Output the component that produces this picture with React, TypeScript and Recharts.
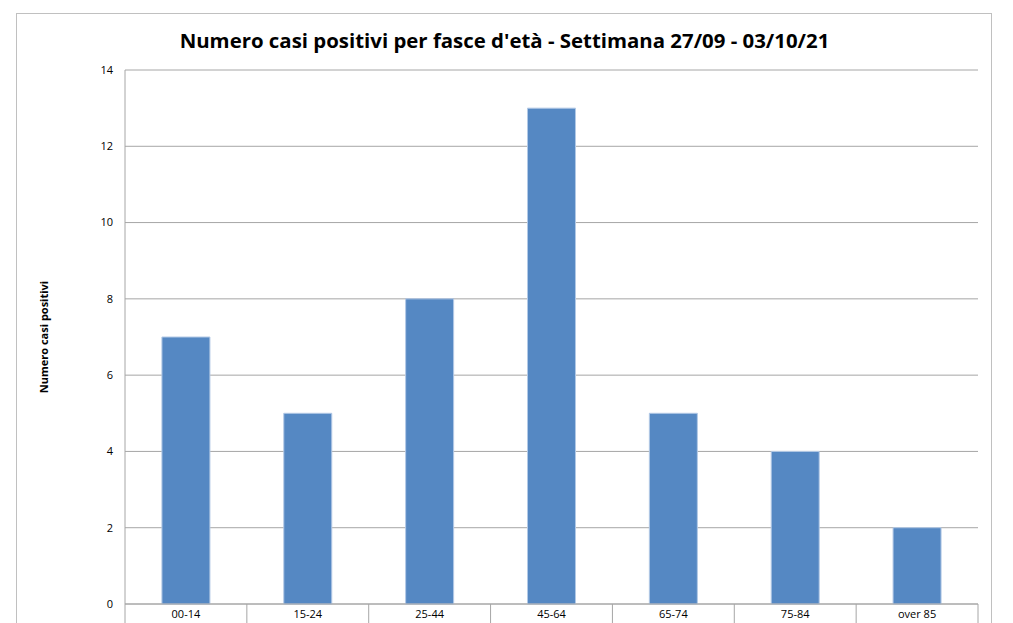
import React from "react";
import { BarChart, Bar, XAxis, YAxis, CartesianGrid, Label } from "recharts";

const categories = ["00-14", "15-24", "25-44", "45-64", "65-74", "75-84", "over 85"];
const casi = [7, 5, 8, 13, 5, 4, 2];
const yTicks = [0, 2, 4, 6, 8, 10, 12, 14];

const data = categories.map((c, i) => ({ fascia: c, casi: casi[i] }));

const font = "'Open Sans', 'Noto Sans', sans-serif";
const gridColor = "#a6a6a6";

function YLabel(props: any) {
  const vb = props.viewBox;
  const x = vb.x + 43;
  const y = vb.y + vb.height / 2;
  return (
    <text
      x={x}
      y={y}
      transform={`rotate(-90, ${x}, ${y})`}
      textAnchor="middle"
      dominantBaseline="central"
      fontSize={11}
      fontWeight={700}
      fontFamily={font}
      fill="#000"
    >
      Numero casi positivi
    </text>
  );
}

// etichetta categoria + separatori tra le fasce
function FasciaTick(props: any) {
  const { x, y, payload, index } = props;
  const half = payload && payload.offset ? payload.offset : 0;
  const last = index === categories.length - 1;
  return (
    <g>
      <line x1={x - half} x2={x - half} y1={y} y2={y + 22} stroke={gridColor} />
      {last && <line x1={x + half} x2={x + half} y1={y} y2={y + 22} stroke={gridColor} />}
      <text x={x} y={y + 6} dy="0.71em" textAnchor="middle" fontSize={11} fontFamily={font} fill="#000">
        {payload.value}
      </text>
    </g>
  );
}

export default function App() {
  return (
    <div style={{ position: "absolute", left: 0, top: 0, width: 1013, height: 623, background: "#fff", overflow: "hidden", fontFamily: font }}>
      <div
        style={{
          position: "absolute",
          left: 16,
          top: 13,
          width: 976,
          height: 640,
          border: "1.5px solid #c0c0c0",
          boxSizing: "border-box",
        }}
      />
      <div
        style={{
          position: "absolute",
          left: 16,
          width: 977,
          top: 27,
          textAlign: "center",
          fontSize: 20.4,
          fontWeight: 700,
          color: "#000",
          lineHeight: "26px",
        }}
      >
        Numero casi positivi per fasce d'età - Settimana 27/09 - 03/10/21
      </div>
      <div style={{ position: "absolute", left: 0, top: 0 }}>
        <BarChart
          width={1013}
          height={623}
          data={data}
          margin={{ top: 70, right: 35, bottom: 0, left: 0 }}
          barCategoryGap="30.3%"
        >
          <CartesianGrid vertical={false} stroke={gridColor} strokeWidth={1} />
          <XAxis
            dataKey="fascia"
            height={19}
            axisLine={{ stroke: gridColor }}
            tickLine={false}
            tickSize={0}
            tickMargin={0}
            interval={0}
            tick={<FasciaTick />}
          />
          <YAxis
            width={125}
            domain={[0, 14]}
            ticks={yTicks}
            axisLine={{ stroke: gridColor }}
            tickLine={false}
            tickSize={0}
            tickMargin={12}
            tick={{ fontSize: 11, fill: "#000", fontFamily: font }}
          >
            <Label content={<YLabel />} />
          </YAxis>
          <Bar dataKey="casi" fill="#5588c3" stroke="#b3c9e6" strokeWidth={1} isAnimationActive={false} />
        </BarChart>
      </div>
    </div>
  );
}
